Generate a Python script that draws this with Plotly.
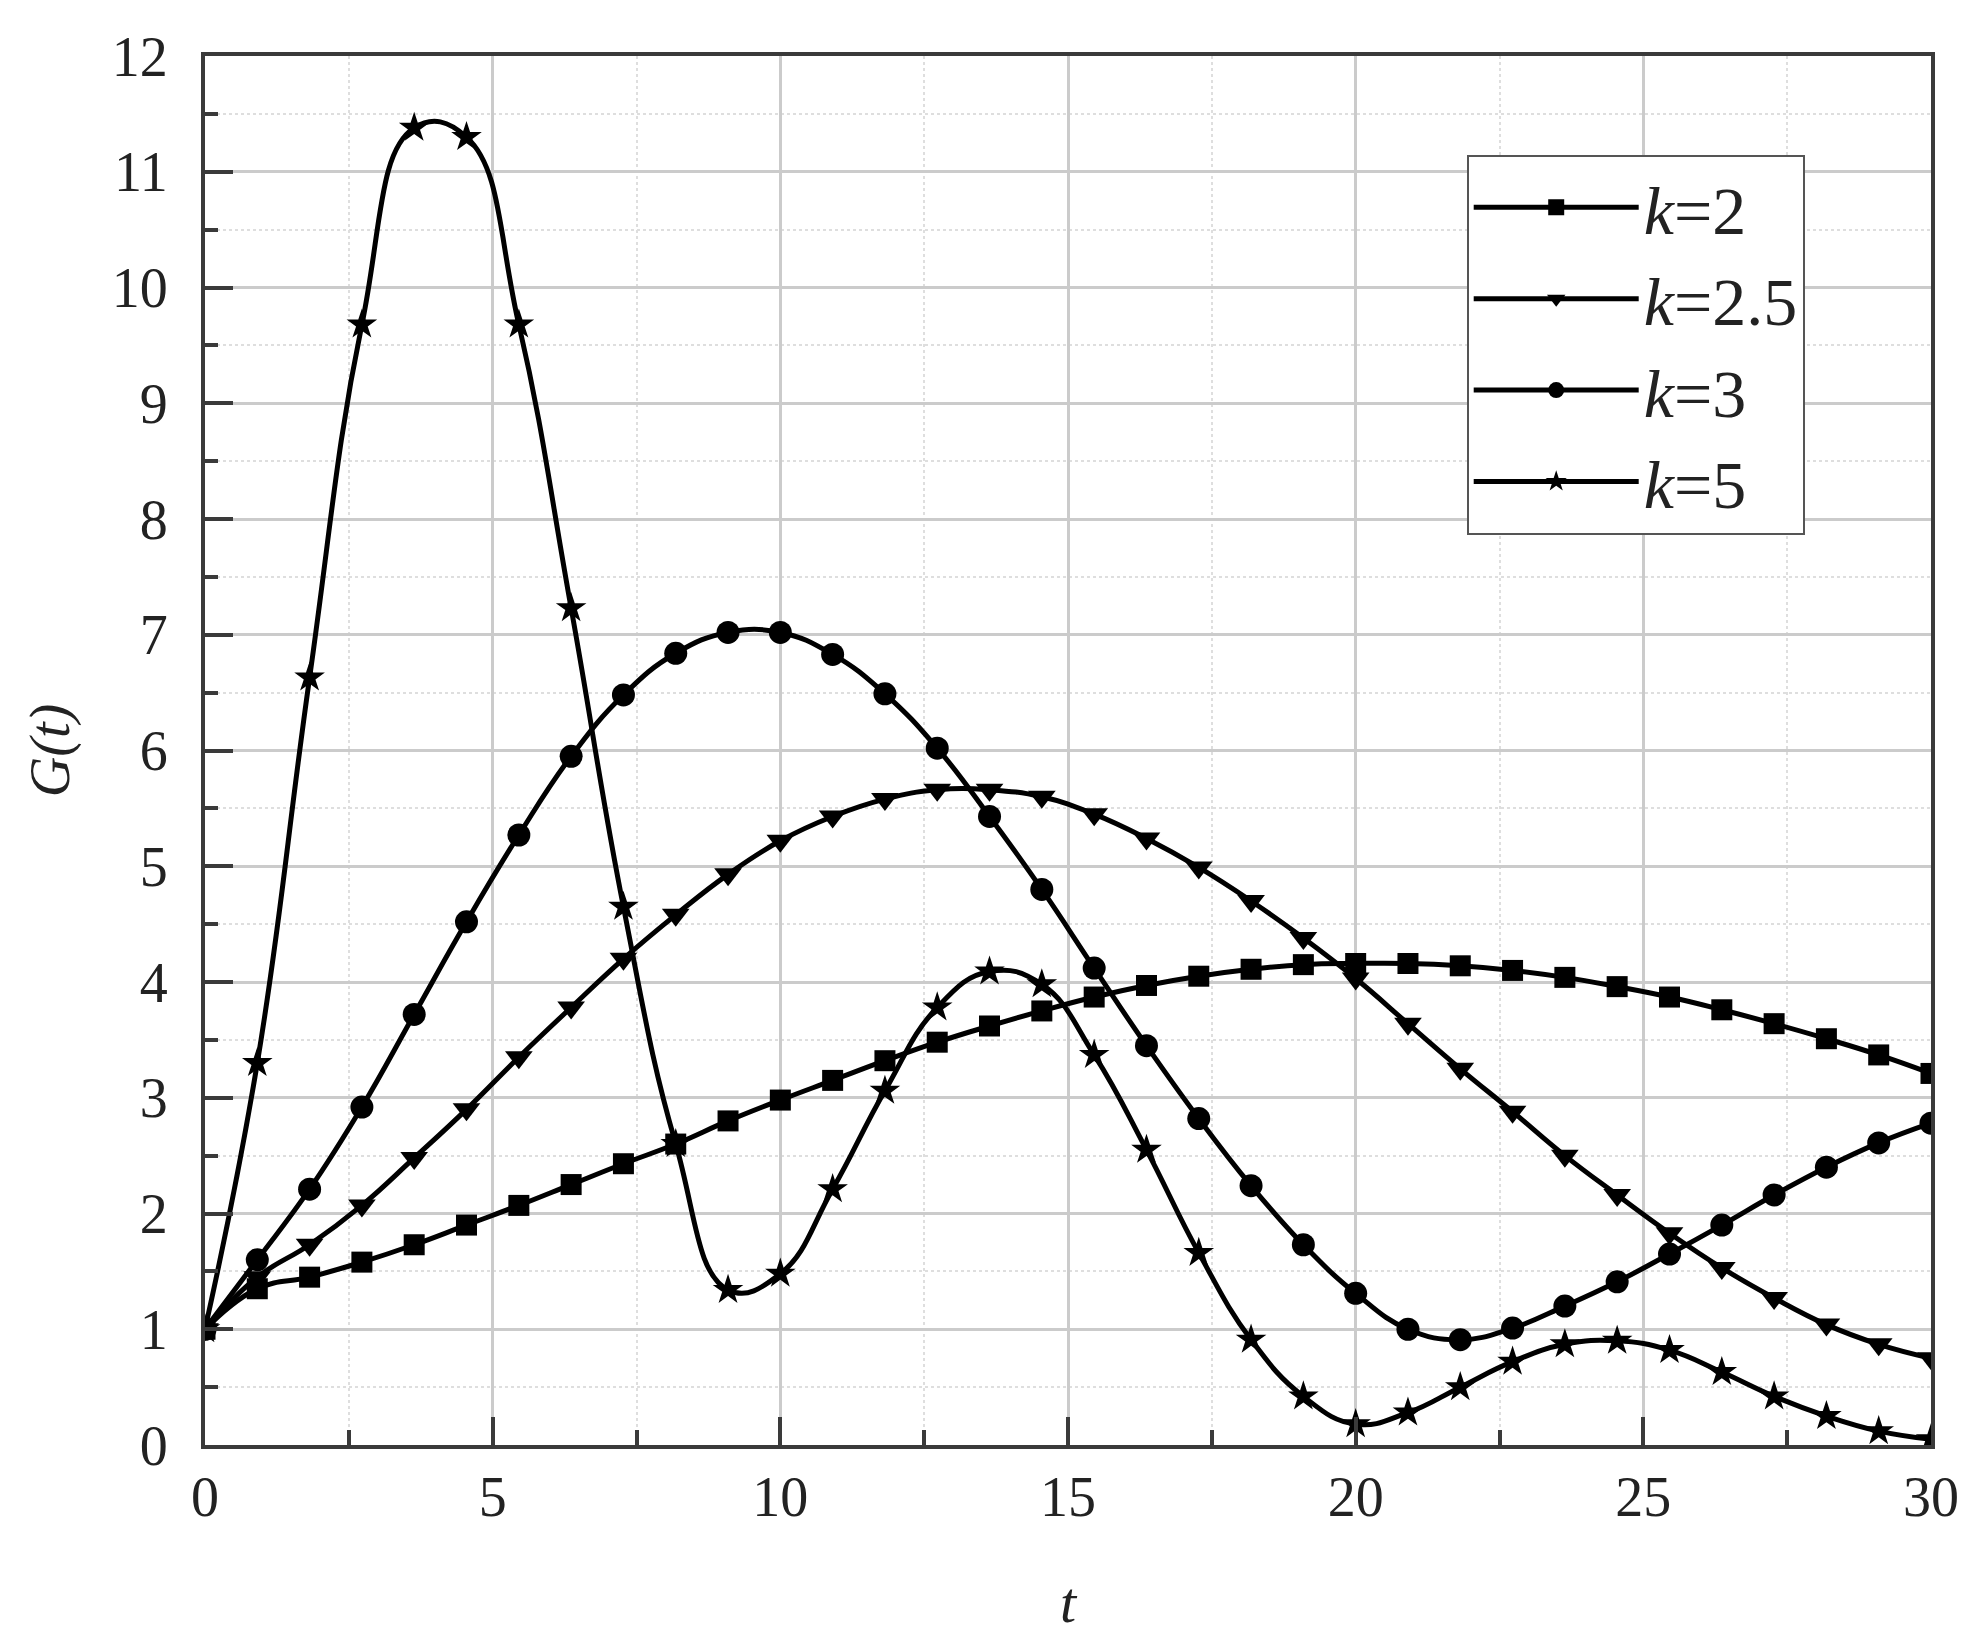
import plotly.graph_objects as go

# time points where markers are drawn (34 points over 0..30)
t = [0, 0.909, 1.818, 2.727, 3.636, 4.545, 5.455, 6.364, 7.273, 8.182, 9.091, 10.0,
     10.909, 11.818, 12.727, 13.636, 14.545, 15.455, 16.364, 17.273, 18.182, 19.091,
     20.0, 20.909, 21.818, 22.727, 23.636, 24.545, 25.455, 26.364, 27.273, 28.182,
     29.091, 30.0]

g_k2 = [1.0, 1.35, 1.45, 1.58, 1.73, 1.90, 2.07, 2.25, 2.43, 2.60, 2.80, 2.98,
        3.15, 3.32, 3.48, 3.62, 3.75, 3.87, 3.97, 4.05, 4.11, 4.15,
        4.16, 4.16, 4.14, 4.10, 4.04, 3.96, 3.87, 3.76, 3.64, 3.51, 3.37, 3.21]

g_k25 = [1.0, 1.45, 1.73, 2.07, 2.48, 2.90, 3.35, 3.78, 4.20, 4.58, 4.93, 5.22,
         5.43, 5.58, 5.66, 5.66, 5.60, 5.45, 5.24, 4.99, 4.70, 4.38,
         4.03, 3.64, 3.25, 2.88, 2.50, 2.16, 1.83, 1.53, 1.27, 1.04, 0.87, 0.75]

g_k3 = [1.0, 1.60, 2.21, 2.92, 3.72, 4.52, 5.27, 5.95, 6.48, 6.84, 7.02, 7.02,
        6.83, 6.49, 6.02, 5.43, 4.80, 4.12, 3.45, 2.82, 2.24, 1.73,
        1.31, 1.00, 0.91, 1.01, 1.20, 1.41, 1.65, 1.90, 2.16, 2.40, 2.61, 2.78]

g_k5 = [1.0, 3.30, 6.63, 9.68, 11.38, 11.30, 9.68, 7.23, 4.65, 2.60, 1.34, 1.48,
        2.21, 3.06, 3.78, 4.09, 3.98, 3.37, 2.55, 1.66, 0.91, 0.42,
        0.18, 0.28, 0.50, 0.72, 0.87, 0.90, 0.82, 0.63, 0.42, 0.25, 0.12, 0.05]

series = [
    ("<i>k</i>=2", g_k2, "square", 21),
    ("<i>k</i>=2.5", g_k25, "triangle-down", 24),
    ("<i>k</i>=3", g_k3, "circle", 23),
    ("<i>k</i>=5", g_k5, "star", 23),
]

x_ticks = [0, 5, 10, 15, 20, 25, 30]
y_ticks = list(range(0, 13))

FONT = "Liberation Serif, Times New Roman, serif"

fig = go.Figure()
for i, (name, vals, sym, size) in enumerate(series):
    fig.add_trace(go.Scatter(
        x=t, y=vals, name=name, mode="lines+markers",
        line=dict(color="black", width=5, shape="spline", smoothing=1.25),
        marker=dict(symbol=sym, size=size, color="black"),
        legendgroup=str(i),
    ))

axis_common = dict(
    showline=True, linecolor="#3a3a3a", linewidth=4, mirror=True,
    ticks="inside", tickwidth=4, tickcolor="#3a3a3a",
    showgrid=True, gridcolor="#cbcbcb", gridwidth=3,
    zeroline=False, automargin=False,
    tickfont=dict(family=FONT, size=56, color="#222"),
)

fig.update_xaxes(
    **axis_common,
    range=[0, 30], tickvals=x_ticks, ticklen=28, ticklabelstandoff=0,
    minor=dict(dtick=2.5, tick0=0, ticks="inside", ticklen=15, tickwidth=4,
               tickcolor="#3a3a3a", showgrid=True, gridcolor="#dedede",
               griddash="dot", gridwidth=2),
    title=dict(text="<i>t</i>", font=dict(family=FONT, size=58, color="#222"), standoff=55),
)
fig.update_yaxes(
    **axis_common,
    range=[0, 12], tickvals=y_ticks, ticklen=28, ticklabelstandoff=22,
    minor=dict(dtick=0.5, tick0=0, ticks="inside", ticklen=13, tickwidth=4,
               tickcolor="#3a3a3a", showgrid=True, gridcolor="#dedede",
               griddash="dot", gridwidth=2),
    title=dict(text="<i>G(t)</i>", font=dict(family=FONT, size=56, color="#222"), standoff=25),
)

fig.update_layout(
    width=1977, height=1647,
    margin=dict(l=197, r=54, t=48, b=210),
    plot_bgcolor="white", paper_bgcolor="white",
    font=dict(family=FONT, color="#222"),
    legend=dict(
        x=0.731, y=0.929, xanchor="left", yanchor="top",
        bgcolor="white", bordercolor="#555", borderwidth=2,
        font=dict(family=FONT, size=68, color="#222"),
        tracegroupgap=0, itemwidth=165,
    ),
    showlegend=True,
)

fig.write_html("out.html")
